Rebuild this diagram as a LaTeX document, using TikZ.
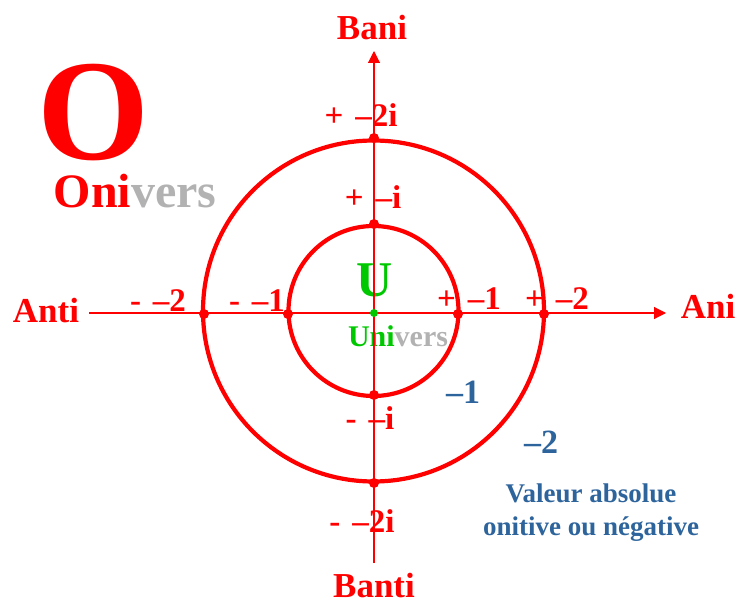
\documentclass[tikz,border=0pt]{standalone}
\usepackage{xcolor}
\usepackage{fontspec}
\setmainfont{Liberation Serif}
\usetikzlibrary{arrows.meta, positioning, calc}
\definecolor{onired}{RGB}{255, 0, 0}
\definecolor{unigreen}{RGB}{0, 200, 0}
\definecolor{versgray}{RGB}{178, 178, 178}
\definecolor{absblue}{RGB}{46, 100, 156}
\newcommand{\gapsp}{\hspace*{12pt}}

\begin{document}
\begin{tikzpicture}[
    x=1pt, y=-1pt,
    axislbl/.style={inner sep=0pt, anchor=base, font=\fontsize{35}{40}\selectfont\bfseries, text=onired},
    ptlbl/.style={inner sep=0pt, anchor=base, font=\fontsize{33}{36}\selectfont\bfseries, text=onired},
    abslbl/.style={inner sep=0pt, anchor=base, font=\fontsize{34}{38}\selectfont\bfseries, text=absblue},
    notelbl/.style={inner sep=0pt, anchor=base, font=\fontsize{27}{30}\selectfont\bfseries, text=absblue},
    ring/.style={draw=onired, line width=4.2pt},
    axisline/.style={draw=onired, line width=1.1pt, -{Triangle[length=12pt, width=12pt]}},
    ptdot/.style={circle, fill=#1, inner sep=0pt, minimum size=10pt}
  ]
  \useasboundingbox (0, 0) rectangle (737, 604);
  \coordinate (orig) at (374, 313);
  \coordinate (ringc) at (373.5, 311);

  % Big letters
  \node[inner sep=0pt, anchor=base, font=\fontsize{144}{150}\selectfont\bfseries, text=onired] (bigO) at (94, 160) {O};
  \node[inner sep=0pt, anchor=base, font=\fontsize{48}{52}\selectfont\bfseries, text=onired] (onivers) at (135, 208) {Oni\textcolor{versgray}{vers}};
  \node[inner sep=0pt, anchor=base, font=\fontsize{50}{54}\selectfont\bfseries, text=unigreen] (bigU) at (375, 297) {U};
  \node[inner sep=0pt, anchor=base, font=\fontsize{30}{33}\selectfont\bfseries, text=unigreen] (univers) at (398, 347) {Uni\textcolor{versgray}{vers}};

  % Axis names
  \node[axislbl] (bani) at (372, 40) {Bani};
  \node[axislbl] (banti) at (374, 597) {Banti};
  \node[axislbl] (anti) at (46, 323) {Anti};
  \node[axislbl] (ani) at (708, 319) {Ani};

  % Point labels
  \node[ptlbl] (ptplustwoi) at (361, 127) {+\gapsp{}–2i};
  \node[ptlbl] (ptplusi) at (373, 209) {+\gapsp{}–i};
  \node[ptlbl] (ptminusi) at (370, 429) {-\gapsp{}–i};
  \node[ptlbl] (ptminustwoi) at (362, 532) {-\gapsp{}–2i};
  \node[ptlbl] (ptminustwo) at (158, 312) {-\gapsp{}–2};
  \node[ptlbl] (ptminusone) at (257, 312) {-\gapsp{}–1};
  \node[ptlbl] (ptplusone) at (469, 310) {+\gapsp{}–1};
  \node[ptlbl] (ptplustwo) at (557, 310) {+\gapsp{}–2};

  % Absolute values
  \node[abslbl] (absone) at (463, 403) {–1};
  \node[abslbl] (abstwo) at (541, 453) {–2};
  \node[notelbl] (noteone) at (591, 502) {Valeur absolue};
  \node[notelbl] (notetwo) at (591, 535) {onitive ou négative};

  % Rings
  \draw[ring] (ringc) circle (85);
  \draw[ring] (ringc) circle (170.5);

  % Axes
  \coordinate (xstart) at (89, 313);
  \coordinate (xend) at (666, 313);
  \coordinate (ystart) at (374, 563);
  \coordinate (yend) at (374, 51);
  \draw[axisline] (xstart) -- (xend);
  \draw[axisline] (ystart) -- (yend);

  % Points on the rings
  \foreach \px/\py/\nm in {458/314/e1, 544/314/e2, 288/314/w1, 204/314/w2, 374/224/n1, 374/138/n2, 374/395/s1, 374/483/s2} {
    \node[ptdot=onired] (\nm) at (\px, \py) {};
  }
  \node[ptdot=unigreen, minimum size=8pt] (centre) at (orig) {};

\end{tikzpicture}
\end{document}
